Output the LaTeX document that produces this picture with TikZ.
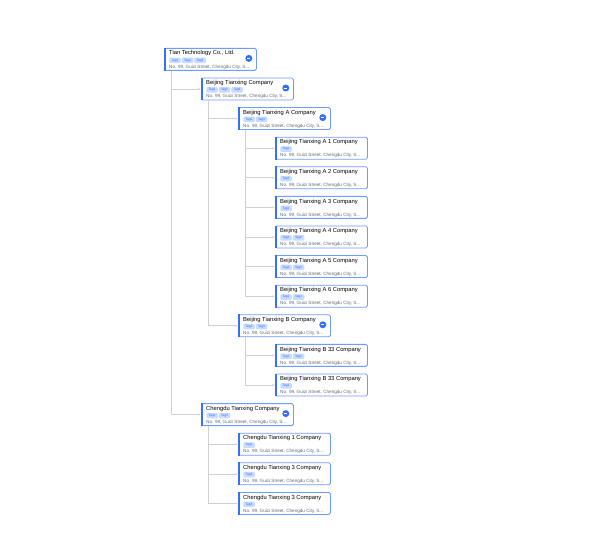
\documentclass[tikz,border=0pt]{standalone}
\usepackage{fontspec}
\setmainfont{Liberation Sans}
\usetikzlibrary{positioning,arrows.meta}
\definecolor{accent}{HTML}{3370FF}
\definecolor{boxline}{HTML}{6F9BFF}
\definecolor{tagfill}{HTML}{C9DBFF}
\definecolor{linkgray}{HTML}{D0D0D0}
\definecolor{addrgray}{HTML}{646A73}

% one organisation card: name, level, row, title, tags
\newcommand\orgcard[5]{%
  \node[orgbox] (#1) at ({164+37*#2},{48+29.6*#3}) {};
  \fill[accent] (#1.north west) rectangle ([xshift=2pt]#1.south west);
  \node[titletext] (#1-t) at ([xshift=5pt,yshift=-2.6pt]#1.north west) {#4};
  \foreach \tg [count=\i] in {#5}
    {\node[tagbox] at ([xshift={11pt+12.5pt*(\i-1)},yshift=-12.3pt]#1.north west) {\tg};}
  \node[addrtext] (#1-a) at ([xshift=5pt,yshift=1.6pt]#1.south west)
    {No. 99, Guizi Street, Chengdu City, S...};
}
\newcommand\collapsebtn[1]{%
  \node[btn] (#1-b) at ([xshift=-8pt,yshift=1pt]#1.east) {};
  \draw[white,line width=0.6pt] ([xshift=-1.6pt]#1-b.center) -- ([xshift=1.6pt]#1-b.center);
}

\begin{document}
\begin{tikzpicture}[x=1pt,y=-1pt,
% card styles
    orgbox/.style={draw=boxline,fill=white,rounded corners=1.5pt,line width=0.8pt,
        anchor=north west,minimum width=92pt,minimum height=22pt,inner sep=0pt},
    titletext/.style={anchor=north west,font=\fontsize{5.8}{7}\selectfont,inner sep=0pt},
    tagbox/.style={fill=tagfill,rounded corners=1pt,text=accent,font=\fontsize{3.2}{3.5}\selectfont,
        minimum width=11.5pt,minimum height=5.5pt,inner sep=0pt},
    addrtext/.style={anchor=south west,font=\fontsize{4.6}{5}\selectfont,text=addrgray,inner sep=0pt},
    btn/.style={circle,fill=accent,minimum size=7pt,inner sep=0pt},
% connector style
    link/.style={draw=linkgray,line width=0.6pt,-{Stealth[length=2pt,width=2pt]}}
    ]
\useasboundingbox (0,0) rectangle (600,553);

%% cards
\orgcard{root}{0}{0}{Tian Technology Co., Ltd.}{Tag1,Tag2,Tag3}
\orgcard{bj}{1}{1}{Beijing Tianxing Company}{Tag1,Tag2,Tag3}
\orgcard{bja}{2}{2}{Beijing Tianxing A Company}{Tag2,Tag3}
\orgcard{a1}{3}{3}{Beijing Tianxing A 1 Company}{Tag1}
\orgcard{a2}{3}{4}{Beijing Tianxing A 2 Company}{Tag2}
\orgcard{a3}{3}{5}{Beijing Tianxing A 3 Company}{Tag1}
\orgcard{a4}{3}{6}{Beijing Tianxing A 4 Company}{Tag1,Tag2}
\orgcard{a5}{3}{7}{Beijing Tianxing A 5 Company}{Tag1,Tag3}
\orgcard{a6}{3}{8}{Beijing Tianxing A 6 Company}{Tag2,Tag3}
\orgcard{bjb}{2}{9}{Beijing Tianxing B Company}{Tag2,Tag3}
\orgcard{b1}{3}{10}{Beijing Tianxing B 33 Company}{Tag1,Tag2}
\orgcard{b2}{3}{11}{Beijing Tianxing B 33 Company}{Tag3}
\orgcard{cd}{1}{12}{Chengdu Tianxing Company}{Tag1,Tag3}
\orgcard{c1}{2}{13}{Chengdu Tianxing 1 Company}{Tag1}
\orgcard{c2}{2}{14}{Chengdu Tianxing 3 Company}{Tag3}
\orgcard{c3}{2}{15}{Chengdu Tianxing 3 Company}{Tag3}

\foreach \p in {root,bj,bja,bjb,cd} {\collapsebtn{\p}}

%% connectors
\foreach \p/\c in {root/bj,root/cd,bj/bja,bj/bjb,bja/a1,bja/a2,bja/a3,bja/a4,bja/a5,bja/a6,
                   bjb/b1,bjb/b2,cd/c1,cd/c2,cd/c3}
  {\draw[link] ([xshift=7pt]\p.south west) |- ([xshift=-0.5pt]\c.west);}

\end{tikzpicture}
\end{document}
